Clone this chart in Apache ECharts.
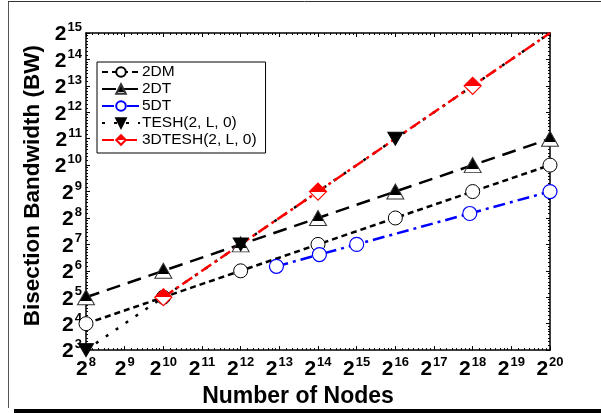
<!DOCTYPE html>
<html>
<head>
<meta charset="utf-8">
<script src="https://cdn.jsdelivr.net/npm/echarts@6/dist/echarts.min.js"></script>
<style>
  html, body { margin: 0; padding: 0; background: #fff; }
  #chart { width: 601px; height: 413px; }
</style>
</head>
<body>
<div id="chart"></div>
<script>
// ---- data (number of nodes, bisection bandwidth) ----
const nodes2DM = [256, 1024, 4096, 16384, 65536, 262144, 1048576];
const bw2DM = [16, 32, 64, 128, 256, 512, 1024];

const nodes2DT = [256, 1024, 4096, 16384, 65536, 262144, 1048576];
const bw2DT = [32, 64, 128, 256, 512, 1024, 2048];

const nodes5DT = [7776, 16807, 32768, 248832, 1048576];
const bw5DT = [72, 98, 128, 288, 512];

const nodesTESH = [256, 4096, 65536, 1048576];
const bwTESH = [8, 128, 2048, 32768];

const nodes3DTESH = [1024, 16384, 262144, 1048576];
const bw3DTESH = [32, 512, 8192, 32768];

const seriesNames = ["2DM", "2DT", "5DT", "TESH(2, L, 0)", "3DTESH(2, L, 0)"];

const FONT = "Liberation Sans, Arial, sans-serif";

function pairs(xs, ys) {
  return xs.map((x, i) => [x, ys[i]]);
}

// last point sits on the plot corner, no marker drawn there
function noLastSymbol(data) {
  return data.map((p, i) => i === data.length - 1 ? { value: p, symbol: "none" } : p);
}

function splitFill(top, bottom, at) {
  return {
    type: "linear", x: 0, y: 0, x2: 0, y2: 1,
    colorStops: [
      { offset: 0, color: top },
      { offset: at, color: top },
      { offset: at, color: bottom },
      { offset: 1, color: bottom }
    ]
  };
}

const powLabel = {
  formatter: v => `{b|2}{s|${Math.round(Math.log2(v))}}`,
  rich: {
    b: { fontSize: 21, fontWeight: "bold", fontFamily: FONT, color: "#000", lineHeight: 24, verticalAlign: "bottom" },
    s: { fontSize: 13, fontWeight: "bold", fontFamily: FONT, color: "#000", lineHeight: 24, verticalAlign: "top", padding: [0, 0, 0, 1] }
  }
};

const tickStyle = {
  axisLine: { lineStyle: { color: "#000", width: 1.5 } },
  axisTick: { inside: true, length: 4, lineStyle: { color: "#000" } },
  minorTick: { show: true, splitNumber: 8, length: 2, lineStyle: { color: "#000" } },
  splitLine: { show: false }
};

const chart = echarts.init(document.getElementById("chart"));

const option = {
  animation: false,
  backgroundColor: "#fff",
  grid: { left: 86, right: 51, top: 33, bottom: 55, show: false },
  legend: {
    left: 97,
    top: 62,
    orient: "vertical",
    data: seriesNames,
    itemWidth: 38,
    itemHeight: 12,
    itemGap: 1,
    padding: [2, 9, 5, 4],
    borderColor: "#000",
    borderWidth: 1,
    backgroundColor: "#fff",
    textStyle: { fontFamily: FONT, fontSize: 15.5, color: "#000", padding: [0, 0, 0, -3] }
  },
  xAxis: [Object.assign({
    type: "log",
    logBase: 2,
    min: 256,
    max: 1048576,
    interval: 1,
    name: "Number of Nodes",
    nameLocation: "middle",
    nameGap: 26,
    nameTextStyle: { fontFamily: FONT, fontSize: 23, fontWeight: "bold", color: "#000", padding: [0, 40, 0, 0] },
    axisLabel: Object.assign({ margin: 6 }, powLabel)
  }, tickStyle), Object.assign({
    type: "log",
    logBase: 2,
    min: 256,
    max: 1048576,
    interval: 1,
    position: "top",
    axisLabel: { show: false }
  }, tickStyle)],
  yAxis: [Object.assign({
    type: "log",
    logBase: 2,
    min: 8,
    max: 32768,
    interval: 1,
    name: "Bisection Bandwidth (BW)",
    nameLocation: "middle",
    nameGap: 34,
    nameTextStyle: { fontFamily: FONT, fontSize: 22.5, fontWeight: "bold", color: "#000", padding: [0, 0, 0, 12] },
    axisLabel: Object.assign({ margin: 4 }, powLabel)
  }, tickStyle), Object.assign({
    type: "log",
    logBase: 2,
    min: 8,
    max: 32768,
    interval: 1,
    position: "right",
    axisLabel: { show: false }
  }, tickStyle)],
  series: [
    {
      name: "2DM",
      type: "line",
      data: pairs(nodes2DM, bw2DM),
      symbol: "circle",
      symbolSize: 14,
      itemStyle: { color: "#fff", borderColor: "#000", borderWidth: 1 },
      lineStyle: { color: "#000", width: 2.5, type: [6, 4] }
    },
    {
      name: "2DT",
      type: "line",
      data: pairs(nodes2DT, bw2DT),
      symbol: "triangle",
      symbolSize: [17, 15],
      itemStyle: { color: splitFill("#000", "#fff", 0.72), borderColor: "#333", borderWidth: 1 },
      lineStyle: { color: "#000", width: 2.5, type: [14, 8] }
    },
    {
      name: "5DT",
      type: "line",
      data: pairs(nodes5DT, bw5DT),
      symbol: "circle",
      symbolSize: 14,
      itemStyle: { color: "#fff", borderColor: "#0000ff", borderWidth: 1.2 },
      lineStyle: { color: "#0000ff", width: 2.5, type: [12, 5, 3, 5] }
    },
    {
      name: "TESH(2, L, 0)",
      type: "line",
      data: noLastSymbol(pairs(nodesTESH, bwTESH)),
      symbol: "triangle",
      symbolRotate: 180,
      symbolSize: [15, 13],
      itemStyle: { color: "#000", borderColor: "#000", borderWidth: 1 },
      lineStyle: { color: "#000", width: 2.5, type: [3, 9] }
    },
    {
      name: "3DTESH(2, L, 0)",
      type: "line",
      data: noLastSymbol(pairs(nodes3DTESH, bw3DTESH)),
      symbol: "diamond",
      symbolSize: 17,
      itemStyle: { color: splitFill("#ff0000", "#fff", 0.5), borderColor: "#ff0000", borderWidth: 1.2 },
      lineStyle: { color: "#ff0000", width: 2.5, type: [12, 4, 3, 4] }
    }
  ],
  graphic: [
    { type: "line", shape: { x1: 8.5, y1: 1, x2: 8.5, y2: 408 }, style: { stroke: "#555", lineWidth: 1 } },
    { type: "line", shape: { x1: 8, y1: 1.5, x2: 601, y2: 1.5 }, style: { stroke: "#333", lineWidth: 1 } },
    { type: "rect", shape: { x: 14, y: 409, width: 587, height: 4 }, style: { fill: "#000" } }
  ]
};

chart.setOption(option);
window.addEventListener("resize", chart.resize);
</script>
</body>
</html>
